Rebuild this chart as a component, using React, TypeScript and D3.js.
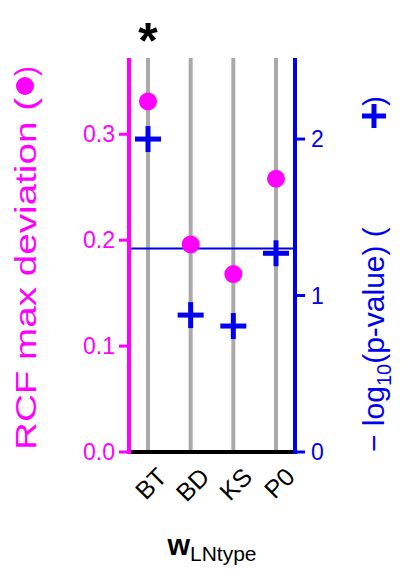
import React from 'react';
import * as d3 from 'd3';

const categories = ['BT', 'BD', 'KS', 'P0'];
const rcfDeviation = [0.331, 0.196, 0.168, 0.258];
const negLogP = [2.0, 0.875, 0.805, 1.27];
const leftTicks = [0, 0.1, 0.2, 0.3];
const rightTicks = [0, 1, 2];
const threshold = 1.301;
const significant = ['BT'];

const W = 408, H = 572;
const left = 129, right = 295, top = 58, bottom = 452;
const magenta = '#ff00ff';
const blue = '#0000ee';
const font = 'Liberation Sans, Arial, sans-serif';

export default function App() {
  const x = d3.scalePoint<string>().domain(categories).range([148, 276]);
  const yL = d3.scaleLinear().domain([0, 0.372]).range([bottom, top]);
  const yR = d3.scaleLinear().domain([0, 2.518]).range([bottom, top]);

  return (
    <svg width={W} height={H} style={{ position: 'absolute', left: 0, top: 0 }} fontFamily={font}>
      <rect width={W} height={H} fill="white" />
      {categories.map(c => (
        <line key={c} x1={x(c)} x2={x(c)} y1={top} y2={bottom} stroke="#aaaaaa" strokeWidth={4} />
      ))}
      <line x1={left} x2={right} y1={yR(threshold)} y2={yR(threshold)} stroke={blue} strokeWidth={2} />
      <line x1={left} x2={right} y1={bottom} y2={bottom} stroke="black" strokeWidth={4} />
      <line x1={left} x2={left} y1={top} y2={bottom + 2} stroke={magenta} strokeWidth={4} />
      <line x1={right} x2={right} y1={top} y2={bottom + 2} stroke={blue} strokeWidth={4} />
      {leftTicks.map(t => (
        <g key={t}>
          <line x1={left - 10} x2={left} y1={yL(t)} y2={yL(t)} stroke={magenta} strokeWidth={3} />
          <text x={left - 14} y={yL(t)} dy="0.35em" textAnchor="end" fill={magenta} fontSize={23}>{t.toFixed(1)}</text>
        </g>
      ))}
      {rightTicks.map(t => (
        <g key={t}>
          <line x1={right} x2={right + 10} y1={yR(t)} y2={yR(t)} stroke={blue} strokeWidth={3} />
          <text x={right + 16} y={yR(t)} dy="0.35em" fill={blue} fontSize={23}>{t}</text>
        </g>
      ))}
      {categories.map((c, i) => (
        <circle key={c} cx={x(c)} cy={yL(rcfDeviation[i])} r={9} fill={magenta} />
      ))}
      {categories.map((c, i) => (
        <g key={c} transform={`translate(${x(c)},${yR(negLogP[i])})`}>
          <line x1={-13} x2={13} stroke={blue} strokeWidth={5} />
          <line y1={-13} y2={13} stroke={blue} strokeWidth={5} />
        </g>
      ))}
      {categories.filter(c => significant.includes(c)).map(c => (
        <text key={c} x={x(c)} y={58} textAnchor="middle" fontSize={50} fontWeight="bold">*</text>
      ))}
      {categories.map(c => (
        <text key={c} transform={`translate(${(x(c) as number) + 8},${bottom + 14}) rotate(-45)`} textAnchor="end" dy="0.7em" fontSize={25}>{c}</text>
      ))}
      <text x={212} y={555} textAnchor="middle" fontSize={29}>
        <tspan fontWeight="bold">w</tspan>
        <tspan fontSize={21} dy={6}>LNtype</tspan>
      </text>
      <g transform="translate(36,0) rotate(-90)">
        <text x={-450} y={0} fill={magenta} fontSize={30} textLength={352} lengthAdjust="spacingAndGlyphs">RCF max deviation (</text>
        <text x={-76} y={0} fill={magenta} fontSize={30}>)</text>
      </g>
      <circle cx={25} cy={86} r={9} fill={magenta} />
      <g transform="translate(384,0) rotate(-90)">
        <text x={-452} y={0} fill={blue} fontSize={30}>− log<tspan fontSize={20} dy={7}>10</tspan><tspan dy={-7}>(p-value) (</tspan></text>
        <text x={-106} y={0} fill={blue} fontSize={30}>)</text>
      </g>
      <g transform="translate(374,116)">
        <line x1={-12} x2={12} stroke={blue} strokeWidth={5} />
        <line y1={-12} y2={12} stroke={blue} strokeWidth={5} />
      </g>
    </svg>
  );
}
